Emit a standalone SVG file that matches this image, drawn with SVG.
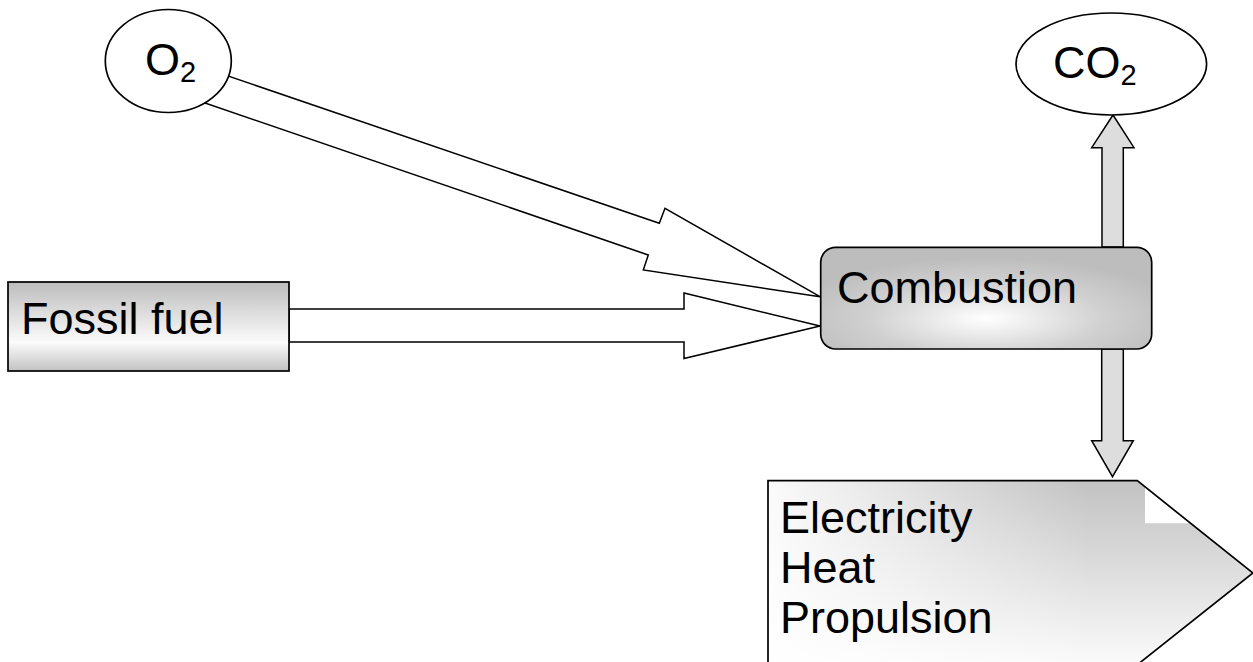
<svg xmlns="http://www.w3.org/2000/svg" width="1253" height="662" viewBox="0 0 1253 662">
  <style>
    .lbl { font-family: "Liberation Sans", Arial, sans-serif; font-size: 45px; fill: #000; }
    .sub { font-size: 29px; }
    .edge { stroke: #000; stroke-width: 1.5; stroke-linejoin: miter; }
    .hollow { fill: #fff; }
    .grey { fill: #dddddd; }
    .nodeStroke { stroke: #000; stroke-width: 1.7; }
  </style>
  <defs>
    <linearGradient id="gFossil" x1="0" y1="0" x2="0" y2="1">
      <stop offset="0" stop-color="#bdbdbd"/>
      <stop offset="0.68" stop-color="#fbfbfb"/>
      <stop offset="1" stop-color="#c2c2c2"/>
    </linearGradient>
    <radialGradient id="gComb" cx="0.5" cy="0.7" r="0.6">
      <stop offset="0" stop-color="#ffffff"/>
      <stop offset="0.6" stop-color="#d0d0d0"/>
      <stop offset="1" stop-color="#bdbdbd"/>
    </radialGradient>
    <linearGradient id="gOutV" gradientUnits="userSpaceOnUse" x1="0" y1="482" x2="0" y2="662">
      <stop offset="0" stop-color="#c2c2c2"/>
      <stop offset="1" stop-color="#fafafa"/>
    </linearGradient>
    <linearGradient id="gOutH" gradientUnits="userSpaceOnUse" x1="770" y1="0" x2="1090" y2="0">
      <stop offset="0" stop-color="#ffffff" stop-opacity="0.92"/>
      <stop offset="1" stop-color="#ffffff" stop-opacity="0"/>
    </linearGradient>
  </defs>

  <g id="connectors">
    <polygon id="arrow-o2" class="edge hollow" points="180,59.6 659.3,223.3 665,208.3 820,296.7 643.3,270 648.3,255 160,87.5"/>
    <polygon id="arrow-fossil" class="edge hollow" points="289,309 684,309 684,293 820,326 684,358.5 684,342 289,342"/>
    <polygon id="arrow-co2" class="edge grey" points="1102,247 1102,147.7 1091.7,147.7 1113,115 1134,147.7 1123.3,147.7 1123.3,247"/>
    <polygon id="arrow-out" class="edge grey" points="1101.7,349 1101.7,440.7 1091.7,440.7 1112.5,476.7 1133.3,440.7 1123.3,440.7 1123.3,349"/>
  </g>

  <g id="node-o2">
    <ellipse cx="168.3" cy="61" rx="63" ry="51.5" fill="#fff" class="nodeStroke"/>
    <text class="lbl" x="145" y="75">O<tspan class="sub" dy="7">2</tspan></text>
  </g>

  <g id="node-co2">
    <ellipse cx="1111.3" cy="64" rx="95.3" ry="51" fill="#fff" class="nodeStroke"/>
    <text class="lbl" x="1053" y="78.3">CO<tspan class="sub" dy="6.5">2</tspan></text>
  </g>

  <g id="node-fossil">
    <rect x="8" y="282" width="281" height="89" fill="url(#gFossil)" class="nodeStroke"/>
    <text class="lbl" x="21" y="334">Fossil fuel</text>
  </g>

  <g id="node-combustion">
    <rect x="820.7" y="247.3" width="331" height="101.7" rx="15" ry="15" fill="url(#gComb)" class="nodeStroke"/>
    <text class="lbl" x="837" y="303">Combustion</text>
  </g>

  <g id="node-output">
    <polygon points="768,480.7 1137.3,480.7 1253,573 1137,665 768,665" fill="url(#gOutV)"/>
    <polygon points="768,480.7 1137.3,480.7 1253,573 1137,665 768,665" fill="url(#gOutH)"/>
    <polygon points="1145,486.9 1190.7,523.3 1145,523.3" fill="#fff"/>
    <polygon points="768,480.7 1137.3,480.7 1253,573 1137,665 768,665" fill="none" class="nodeStroke"/>
    <text class="lbl" x="780" y="533">Electricity</text>
    <text class="lbl" x="780" y="583">Heat</text>
    <text class="lbl" x="780" y="633">Propulsion</text>
  </g>
</svg>
